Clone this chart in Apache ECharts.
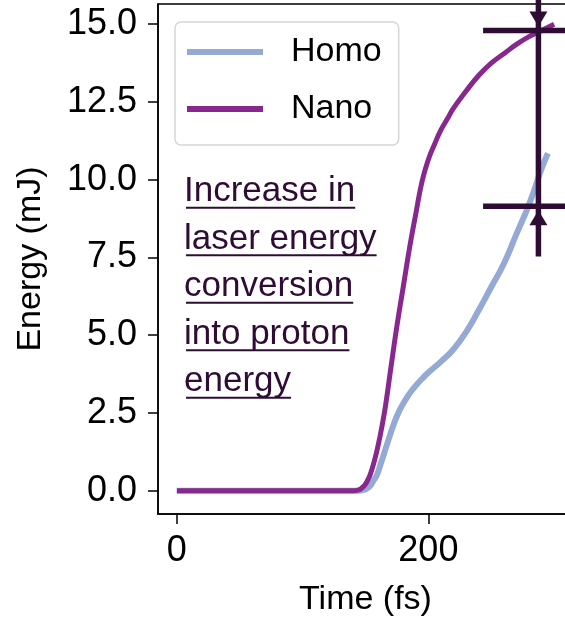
<!DOCTYPE html>
<html>
<head>
<meta charset="utf-8">
<script src="https://cdn.jsdelivr.net/npm/echarts@6/dist/echarts.min.js"></script>
<style>
  html, body { margin: 0; padding: 0; background: #ffffff; }
  #chart { width: 565px; height: 625px; }
</style>
</head>
<body>
<div id="chart"></div>
<script>
// Accumulated proton energy over simulation time
const nanoTime   = [0, 50, 100, 140, 144, 148, 151, 154, 157, 160, 163, 166, 170, 175, 180, 185, 190, 195, 200, 205, 210, 215, 220, 230, 240, 250, 260, 270, 280, 290, 300];
const nanoEnergy = [0, 0, 0, 0, 0.02, 0.12, 0.28, 0.55, 0.95, 1.45, 2.05, 2.75, 3.9, 5.3, 6.55, 7.8, 8.9, 9.95, 10.65, 11.15, 11.6, 11.95, 12.3, 12.85, 13.35, 13.75, 14.05, 14.35, 14.6, 14.8, 15.0];
const homoTime   = [0, 50, 100, 145, 149, 153, 156, 159, 162, 166, 170, 175, 180, 185, 190, 195, 200, 210, 220, 230, 240, 250, 260, 270, 280, 290, 295];
const homoEnergy = [0, 0, 0, 0, 0.03, 0.12, 0.3, 0.5, 0.85, 1.35, 1.85, 2.4, 2.8, 3.12, 3.38, 3.6, 3.8, 4.15, 4.55, 5.1, 5.8, 6.55, 7.3, 8.25, 9.2, 10.35, 10.85];

const seriesNames = ['Homo', 'Nano'];
const xTicks = [0, 200];
const yTicks = [0, 2.5, 5, 7.5, 10, 12.5, 15];
const noteLines = ['Increase in', 'laser energy', 'conversion', 'into proton', 'energy'];

// Dimension marker spanning the gap between the two final energies
const markerTime = 287.5;
const markerHigh = 14.8;
const markerLow = 9.15;
const markerTail = 7.53;
const markerTop = 16.5;
const barFrom = 243.5;
const barTo = 331.5;

const FONT = '"Liberation Sans", Arial, sans-serif';
const INK = '#2e0c33';
const HOMO_COLOR = '#94a9d3';
const NANO_COLOR = '#88288f';

const zip = (xs, ys) => xs.map((x, i) => [x, ys[i]]);

// Segments of the marker: [x1, y1, x2, y2]
const markerSegments = [
  [markerTime, markerTail, markerTime, markerTop],
  [barFrom, markerHigh, barTo, markerHigh],
  [barFrom, markerLow, barTo, markerLow]
];
// Arrow heads: [x, y, direction] (+1 points down onto the bar from above, -1 points up from below)
const markerHeads = [
  [markerTime, markerHigh, 1],
  [markerTime, markerLow, -1]
];

// Note text with underlines sized from the rendered text width
const measureCtx = document.createElement('canvas').getContext('2d');
const noteFontSize = 35;
measureCtx.font = noteFontSize + 'px ' + FONT;
const noteX = 184;
const noteBase = 202.7;
const noteStep = 47.5;
const noteGraphics = [];
noteLines.forEach((line, i) => {
  const base = noteBase + i * noteStep;
  const w = measureCtx.measureText(line).width;
  noteGraphics.push({
    type: 'text', x: noteX, y: base - 11,
    style: { text: line, font: noteFontSize + 'px ' + FONT, fill: INK, verticalAlign: 'middle', align: 'left' },
    silent: true
  });
  noteGraphics.push({
    type: 'rect', shape: { x: noteX + 2, y: base + 4, width: w - 2, height: 2 },
    style: { fill: INK }, silent: true
  });
});

const chart = echarts.init(document.getElementById('chart'), null, { renderer: 'canvas' });
chart.setOption({
  animation: false,
  backgroundColor: '#ffffff',
  textStyle: { fontFamily: FONT },
  grid: {
    left: 158, top: 4, width: 415, height: 510,
    containLabel: false, outerBoundsMode: 'none',
    show: true, borderColor: '#000', borderWidth: 1.5, backgroundColor: 'transparent'
  },
  legend: {
    data: seriesNames,
    orient: 'vertical',
    left: 175, top: 22,
    padding: [13, 17, 19, 12],
    itemWidth: 76, itemHeight: 6, itemGap: 23,
    icon: 'rect',
    backgroundColor: 'rgba(255,255,255,0.8)',
    borderColor: '#d6d6d6', borderWidth: 1.5, borderRadius: 6,
    textStyle: { fontSize: 34, color: '#000', fontFamily: FONT, padding: [0, 0, 0, 23] },
    selectedMode: false
  },
  xAxis: {
    type: 'value', min: -15, max: 315,
    name: 'Time (fs)', nameLocation: 'middle', nameGap: 69,
    nameTextStyle: { fontSize: 34, color: '#000', fontFamily: FONT },
    axisLine: { show: true, onZero: false, lineStyle: { color: '#000', width: 1.5 } },
    axisTick: { show: true, length: 10, lineStyle: { color: '#000', width: 1.5 }, customValues: xTicks },
    axisLabel: { fontSize: 36, color: '#000', margin: 19, customValues: xTicks },
    splitLine: { show: false }
  },
  yAxis: {
    type: 'value', min: -0.75, max: 15.65,
    name: 'Energy (mJ)', nameLocation: 'middle', nameGap: 110,
    nameTextStyle: { fontSize: 34, color: '#000', fontFamily: FONT },
    axisLine: { show: true, onZero: false, lineStyle: { color: '#000', width: 1.5 } },
    axisTick: { show: true, length: 10, lineStyle: { color: '#000', width: 1.5 }, customValues: yTicks },
    axisLabel: { fontSize: 36, color: '#000', margin: 21, customValues: yTicks, formatter: v => v.toFixed(1) },
    splitLine: { show: false }
  },
  series: [
    {
      name: 'Homo', type: 'line', data: zip(homoTime, homoEnergy),
      showSymbol: false, symbol: 'none', smooth: 0.5,
      lineStyle: { color: HOMO_COLOR, width: 6 }, itemStyle: { color: HOMO_COLOR }, z: 2
    },
    {
      name: 'Nano', type: 'line', data: zip(nanoTime, nanoEnergy),
      showSymbol: false, symbol: 'none', smooth: 0.5,
      lineStyle: { color: NANO_COLOR, width: 5 }, itemStyle: { color: NANO_COLOR }, z: 3
    },
    {
      name: 'gapLines', type: 'custom', data: markerSegments, clip: false, silent: true, z: 4,
      renderItem: (params, api) => {
        const a = api.coord([api.value(0), api.value(1)]);
        const b = api.coord([api.value(2), api.value(3)]);
        return {
          type: 'line',
          shape: { x1: a[0], y1: a[1], x2: b[0], y2: b[1] },
          style: { stroke: INK, lineWidth: 5.5, fill: null }
        };
      }
    },
    {
      name: 'gapHeads', type: 'custom', data: markerHeads, clip: false, silent: true, z: 5,
      renderItem: (params, api) => {
        const p = api.coord([api.value(0), api.value(1)]);
        const dir = api.value(2);
        const tipY = p[1] - dir * 4;
        const baseY = tipY - dir * 15;
        return {
          type: 'polygon',
          shape: { points: [[p[0], tipY], [p[0] - 9, baseY], [p[0] + 9, baseY]] },
          style: { fill: INK }
        };
      }
    }
  ],
  graphic: noteGraphics
});
</script>
</body>
</html>
